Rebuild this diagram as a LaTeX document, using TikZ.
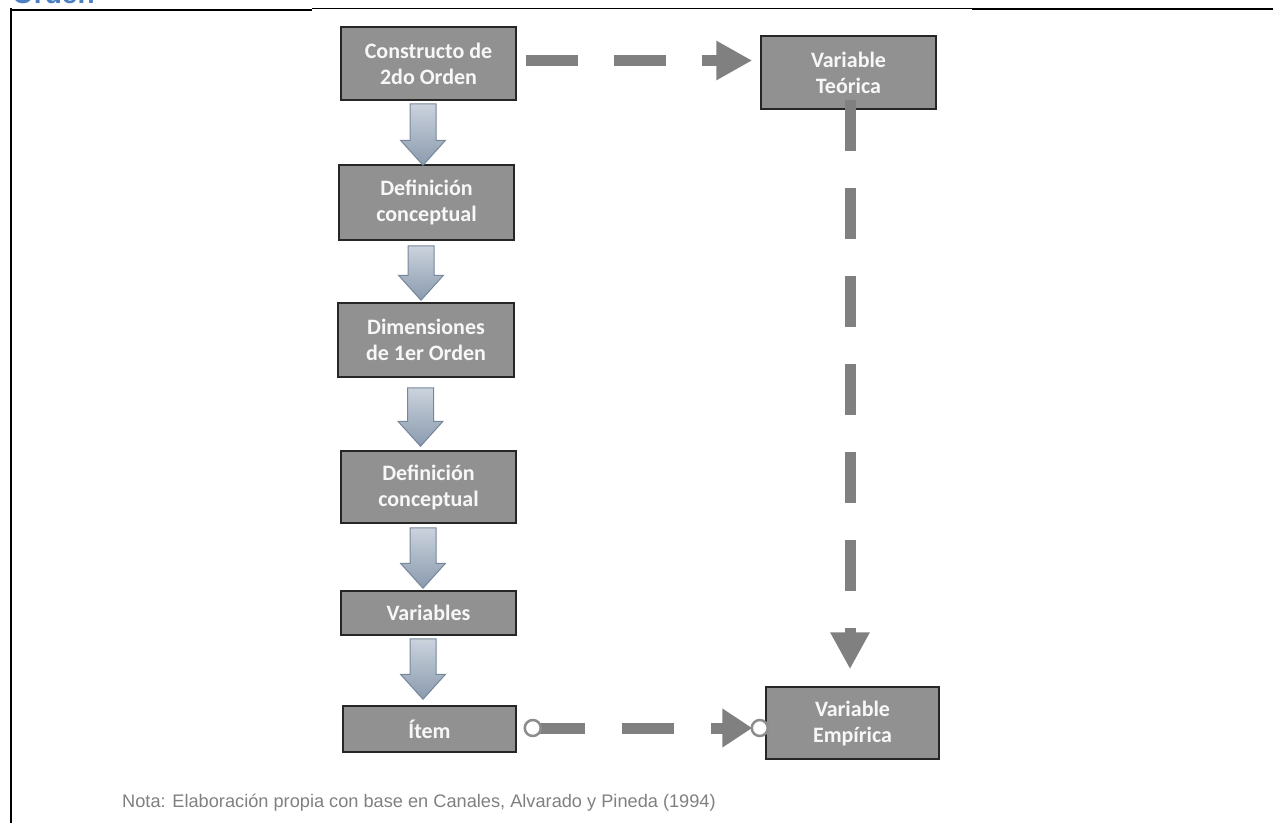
\documentclass[tikz,border=0pt]{standalone}
\usepackage{fontspec}
\setmainfont{Carlito}
\newfontfamily\notefont{Liberation Sans}
\usetikzlibrary{arrows.meta,calc}

\definecolor{boxfill}{HTML}{919191}
\definecolor{boxline}{HTML}{262626}
\definecolor{boxtext}{HTML}{F7F7F7}
\definecolor{linkgray}{HTML}{808080}
\definecolor{ringgray}{HTML}{8C8C8C}
\definecolor{flowtop}{HTML}{CBD3DD}
\definecolor{flowbottom}{HTML}{8A9AAE}
\definecolor{flowedge}{HTML}{76879B}
\definecolor{notegray}{HTML}{808080}
\definecolor{headblue}{HTML}{4A7FC1}

% block arrow pointing down from box #1 to box #2; #3 gap below #1, #4 gap above #2
\newcommand\flowarrow[4]{%
  \path[flowarrow] let \p1=(#1.south), \p2=(#2.north) in
    ({\x1-18.5pt},{\y1-#3}) -- ({\x1+7.5pt},{\y1-#3})
    -- ({\x1+7.5pt},{\y2+#4+25pt}) -- ({\x1+17pt},{\y2+#4+25pt})
    -- ({\x1-5.5pt},{\y2+#4}) -- ({\x1-28pt},{\y2+#4+25pt})
    -- ({\x1-18.5pt},{\y2+#4+25pt}) -- cycle;}

\begin{document}
\begin{tikzpicture}[x=1pt,y=-1pt,
  box/.style={draw=boxline, line width=1.5pt, fill=boxfill, text=boxtext,
    font=\bfseries\fontsize{22}{26}\selectfont, align=center, inner sep=0pt},
  flowarrow/.style={draw=flowedge, line width=1pt, top color=flowtop,
    bottom color=flowbottom},
  dashlink/.style={draw=linkgray, line width=11pt},
  ring/.style={circle, draw=ringgray, line width=2.5pt, fill=white,
    minimum size=16pt, inner sep=0pt}]
\useasboundingbox (0,0) rectangle (1273,823);

% heading cut at the top edge and the page frame
\node[anchor=base west, inner sep=0pt, text=headblue,
  font=\notefont\bfseries\fontsize{28}{30}\selectfont] (heading) at (12,3.5) {Orden};
\draw[black, line width=2.5pt] (11,8) -- (11,823);
\draw[black, line width=2pt] (10,9.5) -- (312,9.5);
\draw[black, line width=1pt] (312,8) -- (972,8);
\draw[black, line width=2.5pt] (972,9.2) -- (1273,9.2);

% boxes
\node[box, minimum width=175pt, minimum height=73pt] (c2) at (428.5,63.5) {Constructo de\\2do Orden};
\node[box, minimum width=175pt, minimum height=75pt] (def1) at (426.5,202.5) {Definición\\conceptual};
\node[box, minimum width=176pt, minimum height=74pt] (dim) at (426,340) {Dimensiones\\de 1er Orden};
\node[box, minimum width=175pt, minimum height=72pt] (def2) at (428.5,487) {Definición\\conceptual};
\node[box, minimum width=175pt, minimum height=44pt] (vars) at (428.5,613) {Variables};
\node[box, minimum width=173pt, minimum height=46pt] (item) at (429.5,729) {Ítem};
\node[box, minimum width=175pt, minimum height=73pt] (vt) at (848.5,72.5) {Variable\\Teórica};
\node[box, minimum width=173pt, minimum height=72pt] (ve) at (852.5,723) {Variable\\Empírica};

% block arrows down the left column
\flowarrow{c2}{def1}{3pt}{-1pt}
\flowarrow{def1}{dim}{5pt}{2pt}
\flowarrow{dim}{def2}{10pt}{4pt}
\flowarrow{def2}{vars}{4pt}{2pt}
\flowarrow{vars}{item}{3pt}{6pt}

% dashed links
\draw[dashlink, dash pattern=on 52pt off 36pt, -{Triangle[length=36pt,width=37pt]}]
  ([shift={(9,-3)}]c2.east) -- ([shift={(-8,-3)}]c2.east -| vt.west);
\draw[dashlink, dash pattern=on 51pt off 37pt, -{Triangle[length=37pt,width=37pt]}]
  ([shift={(1.5,-10)}]vt.south) -- ([shift={(-2.5,-17)}]ve.north);
\draw[dashlink, dash pattern=on 52pt off 37pt, -{Triangle[length=30pt,width=37pt]}]
  ([shift={(16,-1)}]item.east) -- ([shift={(-13,-1)}]item.east -| ve.west);
\node[ring] (ringa) at ([shift={(16,-1)}]item.east) {};
\node[ring] (ringb) at ([shift={(-5.5,-1)}]item.east -| ve.west) {};

% source note
\node[anchor=base west, inner sep=0pt, text=notegray,
  font=\notefont\fontsize{18.2}{22}\selectfont] (nota) at (122,807)
  {Nota: Elaboración propia con base en Canales, Alvarado y Pineda (1994)};
\end{tikzpicture}
\end{document}
